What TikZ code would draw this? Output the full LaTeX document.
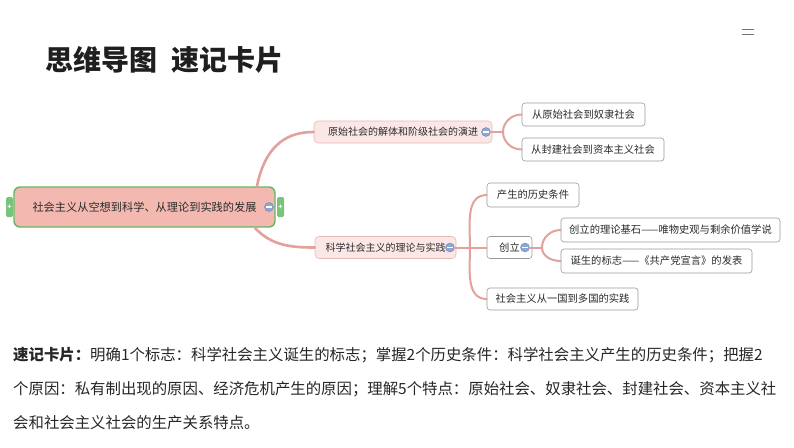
\documentclass[tikz,border=0pt]{standalone}
\usepackage{fontspec}
\setmainfont{Noto Sans CJK SC}
\usepackage{xcolor}
\definecolor{linkred}{HTML}{E2A19B}
\definecolor{rootpink}{HTML}{F3B9B1}
\definecolor{rootgreen}{HTML}{62B862}
\definecolor{topicpink}{HTML}{FCE7E7}
\definecolor{topicline}{HTML}{E8B8B8}
\definecolor{leafline}{HTML}{9A9A9A}
\definecolor{minusblue}{HTML}{8EA7D2}
\definecolor{minusline}{HTML}{6A86B8}
\definecolor{textgray}{HTML}{2B2B2B}

\begin{document}
\begin{tikzpicture}[x=1pt, y=-1pt,
    every node/.style={inner sep=0pt, text=textgray},
    rootbox/.style={draw=rootgreen, fill=rootpink, line width=1.4pt, rounded corners=6pt,
        minimum height=40pt, font=\fontsize{11.2}{13}\selectfont},
    topicbox/.style={draw=topicline, fill=topicpink, line width=0.6pt, rounded corners=4pt,
        minimum height=22pt, font=\fontsize{10}{12}\selectfont},
    leafbox/.style={draw=leafline, fill=white, line width=0.6pt, rounded corners=3pt,
        minimum height=23pt, font=\fontsize{10.3}{12}\selectfont},
    handle/.style={fill=rootgreen!85, rounded corners=1.5pt, minimum width=7pt, minimum height=20pt,
        text=white, font=\fontsize{7}{7}\selectfont\bfseries},
    minus/.style={circle, draw=minusline, fill=minusblue, line width=0.4pt, minimum size=9pt,
        path picture={\fill[white] (path picture bounding box.center) ++(-3pt,0.8pt) rectangle ++(6pt,-1.6pt);}},
    link/.style={draw=linkred, line width=2.6pt, line cap=round},
    sublink/.style={draw=linkred, line width=2pt, line cap=round}
]
\useasboundingbox (0,0) rectangle (794,447);

% title
\node[anchor=west, font=\fontsize{28}{30}\selectfont\bfseries, text=black!88] (title) at (45,60)
    {思维导图\hspace{0.5em}速记卡片};
\draw[black!55, line width=0.8pt] (742,29.5) -- (754,29.5) (742,34) -- (754,34);

% centre topic
\node[rootbox, minimum width=261pt] (root) at (144.5,207) {社会主义从空想到科学、从理论到实践的发展};
\node[handle] (hleft) at (9.5,207) {+};
\node[handle] (hright) at (280.5,207) {+};
\node[minus] (m0) at (269,207) {};

% main branches
\node[topicbox, minimum width=178pt] (evo) at (403,132) {原始社会的解体和阶级社会的演进};
\node[minus] (m1) at (486,132) {};
\node[topicbox, minimum width=141pt] (sci) at (385.5,247.5) {科学社会主义的理论与实践\hspace{9pt}};
\node[minus] (m2) at (450,247.5) {};

% first branch leaves
\node[leafbox, minimum width=123pt] (slave) at (583.5,114.5) {从原始社会到奴隶社会};
\node[leafbox, minimum width=142pt] (capital) at (593,149.5) {从封建社会到资本主义社会};

% second branch leaves
\node[leafbox, minimum width=92pt, minimum height=24pt] (cond) at (533,195) {产生的历史条件};
\node[leafbox, minimum width=45pt, minimum height=22pt] (found) at (509.5,247.5) {创立\hspace{7pt}};
\node[minus] (m3) at (525,247.5) {};
\node[leafbox, minimum width=151pt, minimum height=22pt] (many) at (562.5,299) {社会主义从一国到多国的实践};
\node[leafbox, minimum width=219pt, minimum height=24pt] (base) at (670.5,230) {创立的理论基石——唯物史观与剩余价值学说};
\node[leafbox, minimum width=191pt, minimum height=24pt] (mark) at (656.5,261) {诞生的标志——《共产党宣言》的发表};

% connectors
\coordinate (r1) at (257,186);
\coordinate (r2) at (255,228);
\coordinate (j1) at (503,132);
\coordinate (j2) at (470,247.5);
\coordinate (j3) at (542,247.5);
\draw[link] (r1) .. controls (266,142) and (290,132) .. (evo.west);
\draw[link] (r2) .. controls (272,246) and (292,247.5) .. (sci.west);
\draw[sublink] (m1.east) -- (j1);
\draw[sublink] (j1) to[out=90, in=180] (slave.west);
\draw[sublink] (j1) to[out=-90, in=180] (capital.west);
\draw[sublink] (m2.east) -- (found.west);
\draw[sublink] (j2) to[out=90, in=180] (cond.west);
\draw[sublink] (j2) to[out=-90, in=180] (many.west);
\draw[sublink] (m3.east) -- (j3);
\draw[sublink] (j3) to[out=90, in=180] (base.west);
\draw[sublink] (j3) to[out=-90, in=180] (mark.west);

% summary card
\node[anchor=west, font=\fontsize{15.4}{18}\selectfont, text=black!85] (line1) at (13,355)
    {{\bfseries 速记卡片：}明确1个标志：科学社会主义诞生的标志；掌握2个历史条件：科学社会主义产生的历史条件；把握2};
\node[anchor=west, font=\fontsize{15.4}{18}\selectfont, text=black!85] (line2) at (13,389)
    {个原因：私有制出现的原因、经济危机产生的原因；理解5个特点：原始社会、奴隶社会、封建社会、资本主义社};
\node[anchor=west, font=\fontsize{15.4}{18}\selectfont, text=black!85] (line3) at (13,423)
    {会和社会主义社会的生产关系特点。};
\end{tikzpicture}
\end{document}
